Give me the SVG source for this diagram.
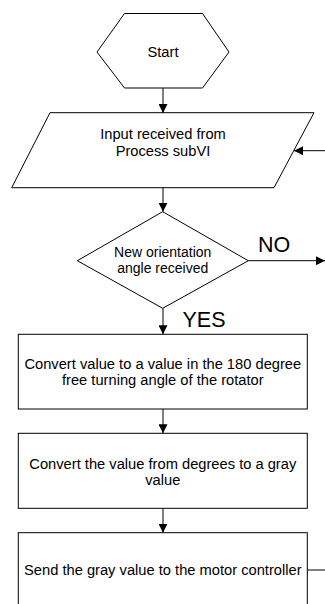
<svg xmlns="http://www.w3.org/2000/svg" width="325" height="604" viewBox="0 0 325 604">
<style>
.s{fill:#fff;stroke:#000;stroke-width:1}
.t{font-family:"Liberation Sans",Arial,sans-serif;font-size:14.7px;fill:#000;text-anchor:middle}
.d{font-size:14px}
.b{font-family:"Liberation Sans",Arial,sans-serif;font-size:21.5px;fill:#000}
.c{fill:none;stroke:#000;stroke-width:1}
</style>
<defs>
<marker id="ah" markerUnits="userSpaceOnUse" markerWidth="9" markerHeight="9" viewBox="0 0 10 10" refX="10" refY="5" orient="auto">
<path d="M0,0 L10,5 L0,10 z" fill="#000"/>
</marker>
</defs>
<g id="connectors">
<line class="c" x1="163" y1="88" x2="163" y2="113" marker-end="url(#ah)"/>
<line class="c" x1="325" y1="150.7" x2="294" y2="150.7" marker-end="url(#ah)"/>
<line class="c" x1="163" y1="188" x2="163" y2="211.7" marker-end="url(#ah)"/>
<line class="c" x1="248.3" y1="260.7" x2="325" y2="260.7" marker-end="url(#ah)"/>
<line class="c" x1="163" y1="308.3" x2="163" y2="334.3" marker-end="url(#ah)"/>
<line class="c" x1="163" y1="409" x2="163" y2="433.3" marker-end="url(#ah)"/>
<line class="c" x1="163" y1="508.3" x2="163" y2="532.7" marker-end="url(#ah)"/>
<line class="c" x1="307.3" y1="570" x2="325" y2="570"/>
<text class="b" x="258" y="251.7">NO</text>
<text class="b" x="182.5" y="326.5">YES</text>
</g>
<g id="start">
<polygon class="s" points="124.5,13.5 202.5,13.5 229,52 202.5,88 124.5,88 97,52"/>
<text class="t" x="163" y="57">Start</text>
</g>
<g id="input">
<polygon class="s" points="50,112.7 314,112.7 274,187.7 11.7,187.7"/>
<text class="t" x="163" y="138.5">Input received from</text>
<text class="t" x="163" y="156">Process subVI</text>
</g>
<g id="decision">
<polygon class="s" points="162.7,211.7 248.3,260.7 162.7,308.3 77.3,260.7"/>
<text class="t d" x="162.7" y="256.7">New orientation</text>
<text class="t d" x="162.7" y="273.3">angle received</text>
</g>
<g id="convert1">
<rect class="s" x="18.3" y="334.3" width="289" height="74.7"/>
<text class="t" x="162.8" y="368.5">Convert value to a value in the 180 degree</text>
<text class="t" x="162.8" y="385">free turning angle of the rotator</text>
</g>
<g id="convert2">
<rect class="s" x="18.3" y="433.3" width="289" height="75"/>
<text class="t" x="162.8" y="468.5">Convert the value from degrees to a gray</text>
<text class="t" x="162.8" y="485">value</text>
</g>
<g id="send">
<rect class="s" x="18.3" y="532.7" width="289" height="80"/>
<text class="t" x="162.8" y="575">Send the gray value to the motor controller</text>
</g>
</svg>
